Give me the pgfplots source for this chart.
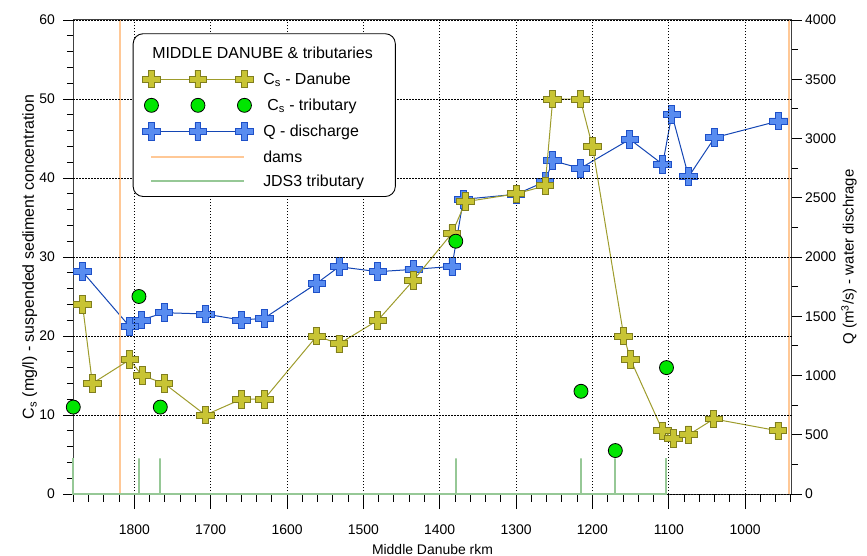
\documentclass[border=0pt]{standalone}
\usepackage{fontspec}
\setmainfont{Liberation Sans}
\usepackage{pgfplots}
\pgfplotsset{compat=1.18}

\definecolor{olfill}{RGB}{200,196,52}
\definecolor{oledge}{RGB}{128,126,30}
\definecolor{olline}{RGB}{158,156,44}
\definecolor{blfill}{RGB}{88,140,240}
\definecolor{bledge}{RGB}{30,80,200}
\definecolor{blline}{RGB}{20,70,180}
\definecolor{trgreen}{RGB}{0,230,0}
\definecolor{damor}{RGB}{255,200,150}
\definecolor{jdsgr}{RGB}{150,200,150}

\pgfdeclareplotmark{fatplus}{%
  \pgfpathmoveto{\pgfqpoint{-\pgfplotmarksize}{0.34\pgfplotmarksize}}%
  \pgfpathlineto{\pgfqpoint{-0.34\pgfplotmarksize}{0.34\pgfplotmarksize}}%
  \pgfpathlineto{\pgfqpoint{-0.34\pgfplotmarksize}{\pgfplotmarksize}}%
  \pgfpathlineto{\pgfqpoint{0.34\pgfplotmarksize}{\pgfplotmarksize}}%
  \pgfpathlineto{\pgfqpoint{0.34\pgfplotmarksize}{0.34\pgfplotmarksize}}%
  \pgfpathlineto{\pgfqpoint{\pgfplotmarksize}{0.34\pgfplotmarksize}}%
  \pgfpathlineto{\pgfqpoint{\pgfplotmarksize}{-0.34\pgfplotmarksize}}%
  \pgfpathlineto{\pgfqpoint{0.34\pgfplotmarksize}{-0.34\pgfplotmarksize}}%
  \pgfpathlineto{\pgfqpoint{0.34\pgfplotmarksize}{-\pgfplotmarksize}}%
  \pgfpathlineto{\pgfqpoint{-0.34\pgfplotmarksize}{-\pgfplotmarksize}}%
  \pgfpathlineto{\pgfqpoint{-0.34\pgfplotmarksize}{-0.34\pgfplotmarksize}}%
  \pgfpathlineto{\pgfqpoint{-\pgfplotmarksize}{-0.34\pgfplotmarksize}}%
  \pgfpathclose
  \pgfusepathqfillstroke
}

\pgfplotsset{
  danube/.style={olline, line width=1bp, mark=fatplus, mark size=8.8bp,
    mark options={solid, fill=olfill, draw=oledge, line width=0.9bp}},
  qstyle/.style={blline, line width=1bp, mark=fatplus, mark size=8.8bp,
    mark options={solid, fill=blfill, draw=bledge, line width=0.9bp}},
  tribst/.style={only marks, mark=*, mark size=7bp,
    mark options={fill=trgreen, draw=black, line width=0.8bp}},
  damst/.style={damor, line width=2bp, no marks},
  jdsst/.style={jdsgr, line width=2bp, no marks},
  common/.style={scale only axis, width=718.4bp, height=474bp,
    x dir=reverse, xmin=939, xmax=1880, clip=false,
    tick align=outside, major tick length=10bp, minor tick length=6.5bp,
    every tick/.append style={black, line width=0.9bp},
    /pgf/number format/assume math mode=true,
    /pgf/number format/1000 sep={},
    tick label style={font=\fontsize{14}{16}\selectfont},
    legend image code/.code={\draw[sharp corners,##1] plot coordinates {(0bp,0bp) (46.5bp,0bp) (93bp,0bp)};}
  },
}

\begin{document}
\begin{tikzpicture}
\path[use as bounding box] (-73.3bp,-62bp) rectangle (793.7bp,494bp);

% Right axis: discharge
\begin{axis}[common,
  ymin=0, ymax=4000,
  xtick=\empty, minor xtick={},
  ytick={0,500,...,4000}, minor ytick={250,750,...,3750},
  ytick pos=right, yticklabel pos=right,
  axis line style={black!75, line width=1bp},
  ylabel={Q (m\textsuperscript{3}/s) - water dischrage},
  ylabel style={font=\fontsize{15}{18}\selectfont, at={(axis description cs:1.0798,0.5)}, anchor=center},
]
\addplot[qstyle] coordinates {
(1868,1876) (1806,1412) (1791,1468) (1761,1530) (1707,1519) (1660,1468)
(1630,1483) (1561,1778) (1532,1918) (1481,1876) (1434,1896) (1384,1920)
(1369,2487) (1300,2529) (1262,2636) (1252,2813) (1216,2748) (1151,2993)
(1108,2782) (1096,3204) (1074,2678) (1040,3007) (956,3148)
};
\end{axis}

% Left axis: concentration
\begin{axis}[common,
  ymin=0, ymax=60,
  ytick={0,10,...,60}, minor ytick={2,4,...,58},
  xtick={1000,1100,...,1800}, minor xtick={940,960,...,1880},
  xtick pos=left, ytick pos=left,
  xtick style={/pgfplots/major tick length=15bp, /pgfplots/minor tick length=7.5bp},
  xticklabel style={anchor=base, yshift=-30bp},
  yticklabel style={xshift=-5bp},
  axis on top, grid=major,
  major grid style={black, line width=0.9bp, dash pattern=on 1.3bp off 1.7bp},
  axis line style={draw=none},
  xlabel={Middle Danube rkm},
  xlabel style={font=\fontsize{14}{17}\selectfont, at={(axis description cs:0.5,0)}, anchor=base, yshift=-60bp},
  ylabel={C\textsubscript{s} (mg/l) - suspended sediment concentration},
  ylabel style={font=\fontsize{16}{19}\selectfont, at={(axis description cs:-0.0605,0.5)}, anchor=center},
  legend cell align=left,
  legend style={at={(rel axis cs:0.0827,0.972)}, anchor=north west,
    draw=black, line width=0.9bp, rounded corners=10bp, fill=white,
    font=\fontsize{16}{19}\selectfont,
    inner xsep=9.5bp, inner ysep=9bp, row sep=10.5bp, column sep=10bp,
    nodes={inner sep=0pt}},
]
\addplot[damst, forget plot] coordinates {(1819,0) (1819,60)};
\addplot[damst, forget plot] coordinates {(943,0) (943,60)};

\addlegendimage{legend image code/.code={}}
\addlegendentry{\hspace*{-111bp}\rule{0pt}{15.5bp}MIDDLE DANUBE \& tributaries\hspace*{13bp}}

\addplot[danube] coordinates {
(1868,24) (1855,14) (1806,17) (1790,15) (1761,14) (1707,10) (1660,12)
(1630,12) (1561,20) (1532,19) (1481,22) (1435,27) (1384,33) (1366,37)
(1300,38) (1262,39) (1252,50) (1216,50) (1200,44) (1159,20) (1150,17)
(1108,8) (1094,7) (1074,7.5) (1041,9.5) (957,8)
};
\addlegendentry{C\textsubscript{s} - Danube}

\addplot[tribst] coordinates {
(1880,11) (1794,25) (1766,11) (1379,32) (1215,13) (1170,5.5) (1103,16)
};
\addlegendentry{\hspace*{4bp}C\textsubscript{s} - tributary}

\addlegendimage{qstyle}
\addlegendentry{Q - discharge}
\addlegendimage{damst}
\addlegendentry{dams}
\addlegendimage{jdsst}
\addlegendentry{JDS3 tributary}
\end{axis}

% JDS3 tributary markers, drawn last over the frame
\begin{axis}[common, ymin=0, ymax=60, hide axis]
\addplot[jdsst] coordinates {
(1880,4.5) (1880,0) (1794,0) (1794,4.5) (1794,0) (1766,0) (1766,4.5) (1766,0)
(1379,0) (1379,4.5) (1379,0) (1215,0) (1215,4.5) (1215,0) (1170,0) (1170,4.5)
(1170,0) (1103,0) (1103,4.5)
};
\end{axis}
\end{tikzpicture}
\end{document}
